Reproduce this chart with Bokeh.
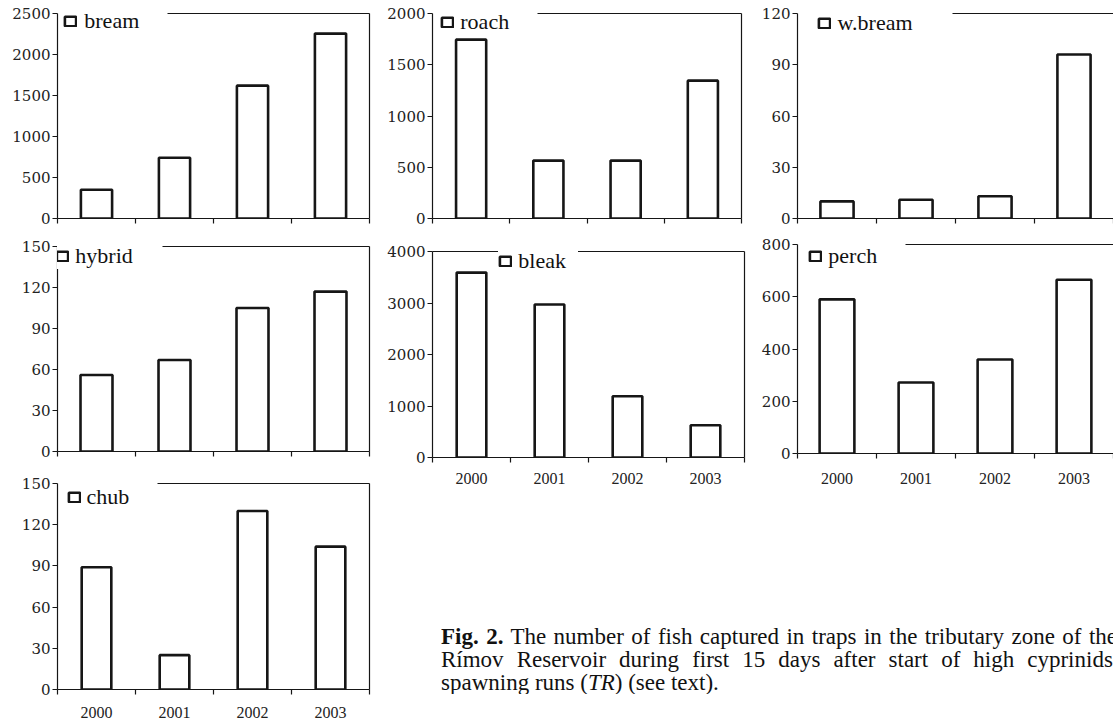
from bokeh.plotting import figure
from bokeh.models import (ColumnDataSource, Range1d, LinearAxis,
                          FixedTicker, Legend, LegendItem, Div, Spacer)
from bokeh.layouts import row, column
from bokeh.embed import file_html
from bokeh.resources import INLINE

# ---------------- data ----------------
years = ["2000", "2001", "2002", "2003"]

bream = [350, 740, 1620, 2255]
roach = [1745, 565, 565, 1345]
w_bream = [10, 11, 13, 96]
hybrid = [56, 67, 105, 117]
bleak = [3590, 2970, 1190, 625]
perch = [590, 272, 360, 665]
chub = [89, 25, 130, 104]

bream_ticks = [0, 500, 1000, 1500, 2000, 2500]
roach_ticks = [0, 500, 1000, 1500, 2000]
w_bream_ticks = [0, 30, 60, 90, 120]
hybrid_ticks = [0, 30, 60, 90, 120, 150]
bleak_ticks = [0, 1000, 2000, 3000, 4000]
perch_ticks = [0, 200, 400, 600, 800]
chub_ticks = [0, 30, 60, 90, 120, 150]

caption_bold = "Fig. 2."
caption_line1 = "The number of fish captured in traps in the tributary zone of the"
caption_line2 = "Rímov Reservoir during first 15 days after start of high cyprinids'"
caption_line3a = "spawning runs ("
caption_line3i = "TR"
caption_line3b = ") (see text)."

INK = "#161616"
SERIF = "Liberation Serif"

N = len(years)
centers = [i + 0.5 for i in range(N)]      # category slot centres
edges = [float(i) for i in range(N + 1)]   # category slot boundaries


def hidden_axis(**kw):
    a = LinearAxis(ticker=FixedTicker(ticks=[]), **kw)
    a.axis_line_color = INK
    a.axis_line_width = 1.2
    a.major_label_text_font_size = "0px"
    a.major_label_standoff = 0
    a.major_tick_out = 0
    a.major_tick_in = 0
    a.minor_tick_out = 0
    a.minor_tick_in = 0
    return a


def panel(name, vals, ticks, g):
    """g: geometry/style dict (pixels)."""
    p = figure(x_range=Range1d(0, N), y_range=Range1d(0, ticks[-1]),
               frame_width=g["fw"], frame_height=g["fh"],
               min_border_left=g["bl"], min_border_right=g["br"],
               min_border_top=g["bt"], min_border_bottom=g["bb"],
               x_axis_location=None, y_axis_location=None,
               toolbar_location=None, output_backend="svg",
               outline_line_color=None, background_fill_color="white",
               border_fill_color="white")
    p.xgrid.visible = False
    p.ygrid.visible = False

    # left value axis
    ya = LinearAxis(ticker=FixedTicker(ticks=ticks))
    ya.axis_line_color = INK
    ya.axis_line_width = 1.2
    ya.major_tick_line_color = INK
    ya.major_tick_line_width = 1.2
    ya.major_tick_out = 5
    ya.major_tick_in = 0
    ya.minor_tick_line_color = None
    ya.major_label_text_font = "DejaVu Serif"
    ya.major_label_text_font_size = "15px"
    ya.major_label_text_color = "#222222"
    ya.major_label_standoff = 2
    p.add_layout(ya, "left")

    # bottom axis: labels at slot centres, ticks at slot boundaries
    xa = LinearAxis(ticker=FixedTicker(ticks=centers, minor_ticks=edges))
    xa.axis_line_color = INK
    xa.axis_line_width = 1.2
    xa.major_tick_line_color = None
    xa.major_tick_out = 0
    xa.major_tick_in = 0
    xa.minor_tick_line_color = INK
    xa.minor_tick_line_width = 1.2
    xa.minor_tick_out = 5
    xa.minor_tick_in = 0
    xa.major_label_overrides = {c: y for c, y in zip(centers, years)}
    xa.major_label_text_font = SERIF
    xa.major_label_text_color = "#222222"
    if g.get("labels"):
        xa.major_label_text_font_size = "16px"
        xa.major_label_standoff = g["ls"]
    else:
        xa.major_label_text_font_size = "0px"
        xa.major_label_standoff = 0
    p.add_layout(xa, "below")

    # top border (starts after the legend)
    p.add_layout(hidden_axis(bounds=(g["top0"], N)), "above")

    # right border
    if g.get("right", True):
        p.add_layout(hidden_axis(), "right")

    src = ColumnDataSource(dict(x=centers, top=vals))
    r = p.vbar(x="x", top="top", width=g["w"], source=src,
               fill_color="white", line_color=INK, line_width=2.6)

    pl, pv = g["pad_l"], g["pad_v"]
    lg = Legend(items=[LegendItem(label=name, renderers=[r])],
                location=(g["vx"], g["vy"]),
                padding=dict(left=pl, right=3, top=pv, bottom=pv), margin=0, spacing=0,
                glyph_width=14, glyph_height=12,
                label_height=25, label_width=g.get("lw", 20),
                label_standoff=g["so"],
                label_text_font=SERIF, label_text_font_size="22px",
                label_text_color="#111111",
                background_fill_color="white", background_fill_alpha=1.0,
                border_line_color=None)
    p.add_layout(lg, "center")
    return p


def geom(fl, ft, fr, fb, fig_l, fig_t, fig_r, fig_b, gl, cy, so, top_end, w,
         pad_l=3, pad_v=3, lw=20, labels=False, ls=5, right=True):
    fw = fr - fl
    fh = fb - ft
    d = dict(fw=fw, fh=fh, bl=fl - fig_l, br=fig_r - fr, bt=ft - fig_t, bb=fig_b - fb,
             w=w, pad_l=pad_l, pad_v=pad_v, lw=lw, so=so, labels=labels, ls=ls, right=right)
    d["vx"] = gl - pad_l - fl
    d["vy"] = fb - (cy + 12.5 + pad_v)
    d["top0"] = max(0.0, (top_end - fl) / fw * N)
    return d


# page-pixel geometry of each panel (frame box, figure box, legend)
g1 = geom(57, 13, 369, 218, 0, 0, 380, 232, 66.3, 18, 7, 167, 0.40)
g4 = geom(57, 246, 369, 451, 0, 232, 380, 470, 61.3, 251.5, 6, 162.3, 0.41, pad_l=6, pad_v=5)
g7 = geom(57, 483, 369, 689, 0, 470, 380, 725, 69.6, 494.7, 6, 156.7, 0.38,
          labels=True, ls=12)
g2 = geom(432, 13, 741, 218, 380, 0, 750, 232, 443.3, 19.3, 6, 537, 0.39)
g5 = geom(432, 251, 744, 457, 380, 232, 750, 492, 505.3, 256, 6, 432, 0.38,
          pad_l=7, pad_v=5, lw=60, labels=True, ls=10)
g3 = geom(797, 13, 1113, 218, 750, 0, 1113, 232, 819.6, 20, 7, 951.7, 0.42, right=False)
g6 = geom(797, 244, 1113, 453, 750, 232, 1113, 492, 811.3, 253.5, 6, 905, 0.44,
          labels=True, ls=14, right=False)

p1 = panel("bream", bream, bream_ticks, g1)
p2 = panel("roach", roach, roach_ticks, g2)
p3 = panel("w.bream", w_bream, w_bream_ticks, g3)
p4 = panel("hybrid", hybrid, hybrid_ticks, g4)
p5 = panel("bleak", bleak, bleak_ticks, g5)
p6 = panel("perch", perch, perch_ticks, g6)
p7 = panel("chub", chub, chub_ticks, g7)

line_style = "text-align:justify;text-align-last:justify;"
cap_html = (
    f'<div style="width:672px;overflow:hidden;font-family:\'{SERIF}\';font-size:23px;'
    f'line-height:23px;color:#111;">'
    f'<div style="width:676px;">'
    f'<div style="{line_style}"><b>{caption_bold}</b> {caption_line1}</div>'
    f'<div style="{line_style}">{caption_line2}</div>'
    f'<div>{caption_line3a}<i>{caption_line3i}</i>{caption_line3b}</div>'
    f'</div></div>'
)
cap = Div(text=cap_html, width=672, height=69, margin=0)

col1 = column(p1, p4, p7)
grid2 = row(column(p2, p5), column(p3, p6))
col2 = column(grid2, Spacer(width=10, height=133),
              row(Spacer(width=61, height=69), cap))
root = row(col1, col2)

open("out.html", "w").write(file_html(root, INLINE))
